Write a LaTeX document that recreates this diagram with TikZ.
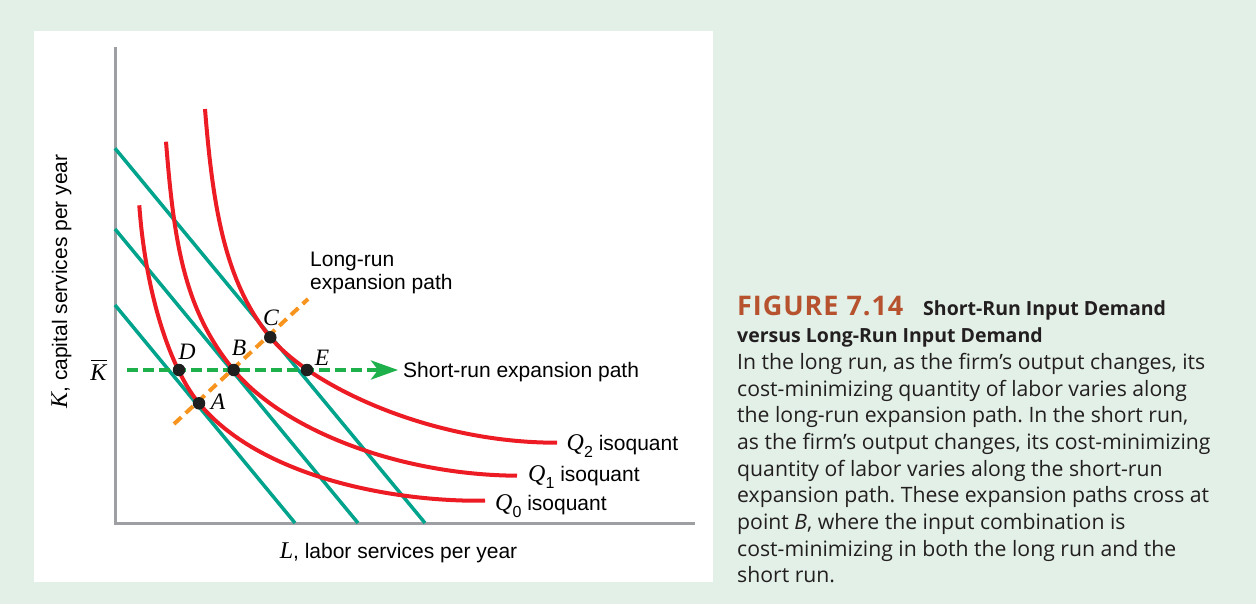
\documentclass[tikz,border=0pt]{standalone}
\usepackage{fontspec}
\setmainfont{Liberation Serif}
\setsansfont{Liberation Sans}
\newfontfamily\capfont{Open Sans}
\newfontfamily\titlefont[LetterSpace=3.5]{Open Sans}
\usetikzlibrary{arrows.meta}
\definecolor{bggreen}{RGB}{226,240,231}
\definecolor{budg}{RGB}{0,163,140}
\definecolor{isored}{RGB}{237,28,36}
\definecolor{axgray}{RGB}{157,159,162}
\definecolor{srgreen}{RGB}{29,176,75}
\definecolor{lrorange}{RGB}{247,148,29}
\definecolor{titlerust}{RGB}{183,82,46}
\definecolor{captxt}{RGB}{35,31,32}
\tikzset{
  budget/.style={draw=budg,line width=3.5pt},
  isoq/.style={draw=isored,line width=4pt},
  axis/.style={draw=axgray,line width=3pt},
  srpath/.style={draw=srgreen,line width=4pt,dash pattern=on 10.5pt off 5.5pt},
  lrpath/.style={draw=lrorange,line width=4pt,dash pattern=on 10pt off 6pt},
  dot/.style={circle,fill=black!88,minimum size=12.5pt,inner sep=0pt},
  ptlab/.style={inner sep=0pt,font=\fontsize{23.5}{26}\selectfont\itshape},
  lab/.style={inner sep=0pt,font=\sffamily\fontsize{21}{25}\selectfont},
  capline/.style={inner sep=0pt,anchor=base west,text=captxt,font=\capfont\fontsize{21.2}{26}\selectfont},
}
\newcommand{\mysub}[1]{\raisebox{-7pt}{\fontsize{16}{16}\selectfont #1}}
\newcommand{\bigit}[1]{{\rmfamily\itshape\fontsize{24}{26}\selectfont #1}}
\frenchspacing
\begin{document}
\begin{tikzpicture}[x=1pt,y=-1pt]
\useasboundingbox (0,0) rectangle (1256,604);
\fill[bggreen] (0,0) rectangle (1256,604);
\fill[white] (34,31) rectangle (713,582);
% axes
\coordinate (O) at (115,523);
\coordinate (Ytop) at (115,47);
\coordinate (Xend) at (695,523);
\draw[axis] (Ytop) -- (O) -- (Xend);
% budget lines
\coordinate (b1s) at (115,148.3); \coordinate (b1e) at (425,523);
\coordinate (b2s) at (115,229);   \coordinate (b2e) at (358,523);
\coordinate (b3s) at (115,305);   \coordinate (b3e) at (295,523);
\draw[budget] (b1s) -- (b1e);
\draw[budget] (b2s) -- (b2e);
\draw[budget] (b3s) -- (b3e);
% points (coordinates)
\coordinate (pD) at (179,370);
\coordinate (pB) at (233.7,370);
\coordinate (pE) at (307,370);
\coordinate (pA) at (199,403.3);
\coordinate (pC) at (270.3,337.3);
% isoquants
\coordinate (q0s) at (139.3,205.3); \coordinate (q0e) at (485,500.7);
\coordinate (q1s) at (166,141.7);   \coordinate (q1e) at (517,475.7);
\coordinate (q2s) at (205,109);     \coordinate (q2e) at (557,442.7);
\draw[isoq] (q0s) .. controls (145.3,290.3) and (169,367) .. (pA)
            .. controls (259,475.9) and (390,502) .. (q0e);
\draw[isoq] (q1s) .. controls (174,241.7) and (183.7,309.5) .. (pB)
            .. controls (283.7,430.5) and (400,475) .. (q1e);
\draw[isoq] (q2s) .. controls (213,209) and (225.3,282.8) .. (pC)
            .. controls (310.3,385.7) and (430,443) .. (q2e);
% expansion paths
\coordinate (srs) at (127,370);
\coordinate (sre) at (398,370);
\draw[srpath,-{Stealth[length=27pt,width=19pt,inset=7pt]}] (srs) -- (sre);
\coordinate (lrs) at (174,424);
\coordinate (lre) at (308,299);
\draw[lrpath] (lrs) -- (lre);
% dots
\node[dot] (D) at (pD) {};
\node[dot] (B) at (pB) {};
\node[dot] (E) at (pE) {};
\node[dot] (A) at (pA) {};
\node[dot] (C) at (pC) {};
\node[ptlab] (Dl) at (187,352) {D};
\node[ptlab] (Bl) at (239,348) {B};
\node[ptlab] (Al) at (218,401.5) {A};
\node[ptlab] (Cl) at (271,318) {C};
\node[ptlab] (El) at (322,357.5) {E};
\node[inner sep=0pt,anchor=base] (Kbar) at (98.5,380.5) {\bigit{\makebox[0pt][l]{\hspace{1pt}\raisebox{19.5pt}{\rule{16pt}{1.4pt}}}K}};
% labels
\node[lab,anchor=base west] (srl) at (403,377.7) {Short-run expansion path};
\node[lab,anchor=base west] (lrl1) at (310,266) {Long-run};
\node[lab,anchor=base west] (lrl2) at (310,289) {expansion path};
\node[lab,anchor=base west] (q2l) at (566.5,450) {\bigit{Q}\mysub{2} isoquant};
\node[lab,anchor=base west] (q1l) at (528,481.7) {\bigit{Q}\mysub{1} isoquant};
\node[lab,anchor=base west] (q0l) at (495,510.5) {\bigit{Q}\mysub{0} isoquant};
\node[lab,anchor=base] (xl) at (398.5,558) {\bigit{L}, labor services per year};
\node[lab,anchor=base,rotate=90] (yl) at (67,281.5) {\bigit{K}, capital services per year};
% caption
\node[capline,text=titlerust,font=\titlefont\bfseries\fontsize{27}{30}\selectfont] (fig) at (737,315.5) {FIGURE 7.14};
\node[capline,font=\capfont\bfseries\fontsize{19.5}{26}\selectfont] (t1) at (923,315.5) {Short-Run Input Demand};
\node[capline,font=\capfont\bfseries\fontsize{19.5}{26}\selectfont] (t2) at (737,342.7) {versus Long-Run Input Demand};
\node[capline] (c1) at (737,369.3) {In the long run, as the firm’s output changes, its};
\node[capline] (c2) at (737,396) {cost-minimizing quantity of labor varies along};
\node[capline] (c3) at (737,422.7) {the long-run expansion path. In the short run,};
\node[capline] (c4) at (737,449.3) {as the firm’s output changes, its cost-minimizing};
\node[capline] (c5) at (737,476) {quantity of labor varies along the short-run};
\node[capline] (c6) at (737,502.7) {expansion path. These expansion paths cross at};
\node[capline] (c7) at (737,529.3) {point \textit{B}, where the input combination is};
\node[capline] (c8) at (737,556) {cost-minimizing in both the long run and the};
\node[capline] (c9) at (737,582.7) {short run.};
\end{tikzpicture}
\end{document}
